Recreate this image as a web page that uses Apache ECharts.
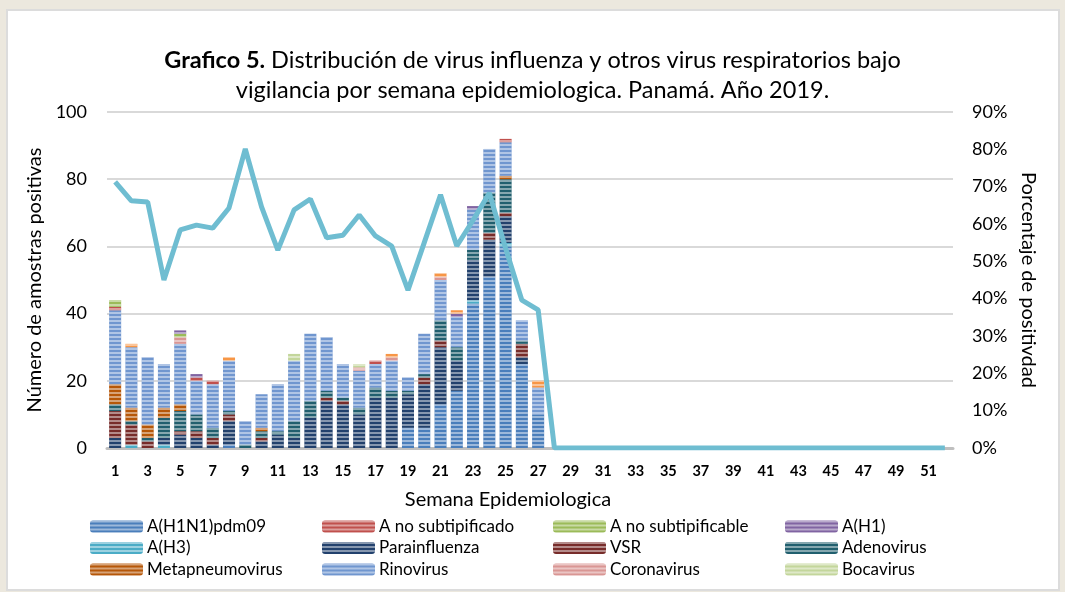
<!DOCTYPE html>
<html>
<head>
<meta charset="utf-8">
<script src="https://cdn.jsdelivr.net/npm/echarts@6/dist/echarts.min.js"></script>
<style>
  html, body { margin: 0; padding: 0; background: #ECE8DE; }
  .panel { position: absolute; left: 6px; top: 9px; width: 1050px; height: 578px;
           background: #fff; border: 2px solid #dcdcdc; }
  #chart { position: absolute; left: 0; top: 0; width: 1065px; height: 592px; }
</style>
</head>
<body>
<div class="panel"></div>
<div id="chart"></div>
<script>
// semanas 1..52
var semanas = [];
for (var i = 1; i <= 52; i++) semanas.push(String(i));

// valores (semanas 1-27, resto 0)
var h1n1      = [0,0,0,0,0,0,0,1,0,0, 0,0,0,0,0,0,0,0,6,6, 13,17,43,51,60,25,10];
var h3        = [0,1,0,1,0,0,0,0,0,0, 0,0,0,0,0,0,0,0,0,0, 0,0,1,0,1,0,0];
var parainf   = [3,0,0,2,4,3,1,7,0,2, 4,3,9,14,13,10,15,15,10,13, 17,9,12,11,8,2,0];
var vsr       = [8,6,2,0,1,2,2,2,0,1, 0,0,0,1,1,0,0,0,0,2, 2,0,0,2,1,4,0];
var adeno     = [2,1,1,6,6,5,3,1,1,2, 1,5,5,2,1,2,3,2,1,1, 6,4,3,12,10,1,0];
var metap     = [6,4,4,3,2,0,0,0,0,1, 0,0,0,0,0,0,0,0,0,0, 0,0,0,0,1,0,0];
var rino      = [22,18,20,13,18,10,13,15,7,10, 14,18,20,16,10,11,7,9,4,12, 12,9,12,13,10,6,8];
var aNoSub    = [1,0,0,0,0,1,1,0,0,0, 0,0,0,0,0,0,1,0,0,0, 0,0,0,0,1,0,0];
var corona    = [0,0,0,0,2,0,0,0,0,0, 0,0,0,0,0,1,0,1,0,0, 1,0,0,0,0,0,0];
var aNoSubble = [2,0,0,0,1,0,0,0,0,0, 0,0,0,0,0,0,0,0,0,0, 0,0,0,0,0,0,0];
var boca      = [0,0,0,0,0,0,0,0,0,0, 0,2,0,0,0,1,0,0,0,0, 0,0,0,0,0,0,0];
var h1        = [0,0,0,0,1,1,0,0,0,0, 0,0,0,0,0,0,0,0,0,0, 0,1,1,0,0,0,0];
var otros     = [0,1,0,0,0,0,0,1,0,0, 0,0,0,0,0,0,0,1,0,0, 1,1,0,0,0,0,2];

var positividad = [71.3,66.2,65.9,45,58.4,59.7,58.9,64.3,80.1,64.6,
                   53,63.8,66.7,56.3,57,62.4,56.8,54.1,42.3,55,
                   67.8,54.1,61,68.3,53.5,39.6,37];

function pad(arr) {
  var out = arr.slice();
  while (out.length < 52) out.push(0);
  return out;
}

var stripes = {
  symbol: 'rect', symbolSize: 1,
  dashArrayX: [1, 0], dashArrayY: [2, 2],
  color: 'rgba(255,255,255,0.45)'
};

function bar(name, data, color) {
  return {
    name: name, type: 'bar', stack: 'virus', barCategoryGap: '26%',
    data: pad(data),
    itemStyle: { color: color, decal: stripes },
    emphasis: { disabled: true }
  };
}

var series = [
  bar('A(H1N1)pdm09', h1n1, '#4A7EBB'),
  bar('A(H3)', h3, '#4BACC6'),
  bar('Parainfluenza', parainf, '#22416D'),
  bar('VSR', vsr, '#772C2A'),
  bar('Adenovirus', adeno, '#215F6E'),
  bar('Metapneumovirus', metap, '#B65708'),
  bar('Rinovirus', rino, '#7096CF'),
  bar('A no subtipificado', aNoSub, '#C0504D'),
  bar('Coronavirus', corona, '#D99694'),
  bar('A no subtipificable', aNoSubble, '#9BBB59'),
  bar('Bocavirus', boca, '#C3D69B'),
  bar('A(H1)', h1, '#8064A2'),
  bar('Otros', otros, '#F79646'),
  {
    name: 'Positividad', type: 'line', yAxisIndex: 1,
    data: pad(positividad), symbol: 'none', z: 5,
    lineStyle: { color: '#6FBDD1', width: 5 },
    itemStyle: { color: '#6FBDD1' }
  }
];

var font = 'Lato, "Open Sans", sans-serif';

function legendCol(left, names) {
  return {
    orient: 'vertical', left: left, top: 512,
    itemWidth: 53, itemHeight: 12, itemGap: 2.5,
    selectedMode: false,
    textStyle: { fontFamily: font, fontSize: 17, color: '#000', lineHeight: 19, padding: [0, 0, 0, -1] },
    data: names
  };
}

var option = {
  animation: false,
  textStyle: { fontFamily: font },
  title: {
    left: 'center', top: 40,
    text: '{b|Grafico 5.} Distribución de virus influenza y otros virus respiratorios bajo\nvigilancia por semana epidemiologica. Panamá. Año 2019.',
    textStyle: {
      fontFamily: font, fontSize: 23.5, fontWeight: 'normal', color: '#000', lineHeight: 30,
      rich: { b: { fontFamily: font, fontSize: 23.5, fontWeight: 'bold', color: '#000', lineHeight: 30 } }
    }
  },
  legend: [
    legendCol(85, ['A(H1N1)pdm09', 'A(H3)', 'Metapneumovirus']),
    legendCol(317, ['A no subtipificado', 'Parainfluenza', 'Rinovirus']),
    legendCol(548, ['A no subtipificable', 'VSR', 'Coronavirus']),
    legendCol(780, ['A(H1)', 'Adenovirus', 'Bocavirus'])
  ],
  grid: { left: 107, right: 112, top: 112, bottom: 144 },
  xAxis: {
    type: 'category', data: semanas,
    name: 'Semana Epidemiologica', nameLocation: 'middle', nameGap: 42,
    nameTextStyle: { fontFamily: font, fontSize: 20, color: '#000', padding: [0, 44, 0, 0] },
    axisLine: { lineStyle: { color: '#BFBFBF', width: 3 } },
    axisTick: { show: false },
    axisLabel: { interval: 1, margin: 16, fontFamily: font, fontSize: 14.5, fontWeight: 'bold', color: '#000' }
  },
  yAxis: [
    {
      type: 'value', min: 0, max: 100, interval: 20,
      name: 'Número de amostras positivas', nameLocation: 'middle', nameGap: 58, nameRotate: 90,
      nameTextStyle: { fontFamily: font, fontSize: 20, color: '#000' },
      axisLabel: { margin: 20, fontFamily: font, fontSize: 18, color: '#000' },
      splitLine: { lineStyle: { color: '#D9D9D9', width: 2 } },
      axisLine: { show: false }, axisTick: { show: false }
    },
    {
      type: 'value', min: 0, max: 90, interval: 10,
      name: 'Porcentaje de positivdad', nameLocation: 'middle', nameGap: 62, nameRotate: -90,
      nameTextStyle: { fontFamily: font, fontSize: 20, color: '#000' },
      axisLabel: { formatter: '{value}%', margin: 19, fontFamily: font, fontSize: 18, color: '#000' },
      splitLine: { show: false },
      axisLine: { show: false }, axisTick: { show: false }
    }
  ],
  series: series
};

var myChart = echarts.init(document.getElementById('chart'));
myChart.setOption(option);
</script>
</body>
</html>
